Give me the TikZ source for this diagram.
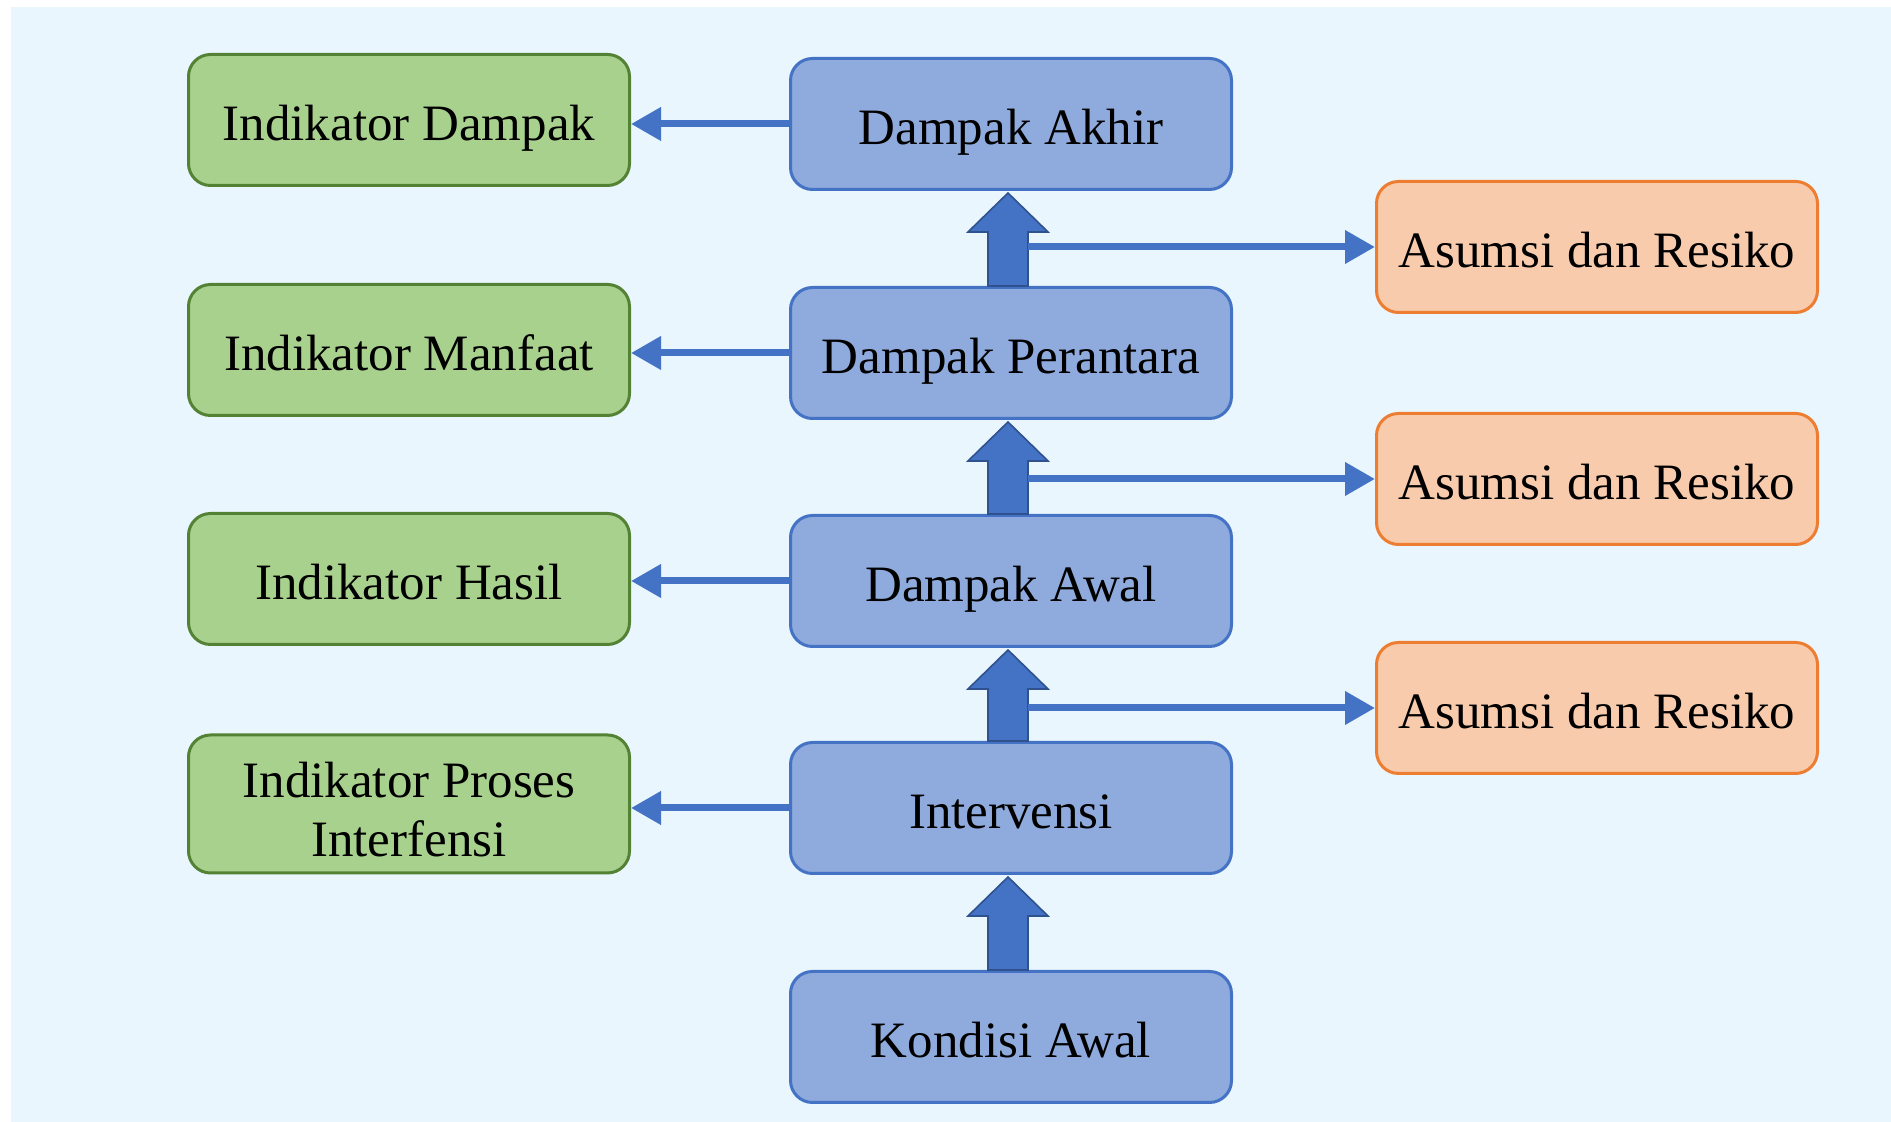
\documentclass[tikz,border=0pt]{standalone}
\usepackage{fontspec}
\setmainfont{Liberation Serif}
\usetikzlibrary{arrows.meta,calc}
\definecolor{bg}{HTML}{EAF6FD}
\definecolor{gfill}{HTML}{A9D18E}
\definecolor{gborder}{HTML}{548235}
\definecolor{bfill}{HTML}{8FAADC}
\definecolor{bborder}{HTML}{4472C4}
\definecolor{ofill}{HTML}{F8CBAD}
\definecolor{oborder}{HTML}{ED7D31}
\definecolor{arr}{HTML}{4472C4}
\definecolor{arrdark}{HTML}{2F528F}
\begin{document}
\begin{tikzpicture}[x=0.5pt,y=0.5pt,
  font=\fontsize{25.5}{29.5}\selectfont,
  box/.style={rounded corners=11pt, minimum width=220.5pt, minimum height=65.5pt, line width=1.5pt, align=center, inner sep=2pt, text height=27pt, text depth=6pt},
  gbox/.style={box, draw=gborder, fill=gfill},
  bbox/.style={box, draw=bborder, fill=bfill},
  obox/.style={box, draw=oborder, fill=ofill},
  larrow/.style={draw=arr, line width=3.5pt, -{Triangle[length=15pt,width=16pt]}},
  barrow/.style={fill=arr, draw=arrdark, line width=0.8pt, line join=miter}]
\useasboundingbox (0,0) rectangle (1891,1122);
\fill[bg] (11,0) rectangle (1891,1115);
% green indicator boxes
\node[gbox] (g1) at (409,1002) {Indikator Dampak};
\node[gbox] (g2) at (409,772) {Indikator Manfaat};
\node[gbox] (g3) at (409,543) {Indikator Hasil};
\node[gbox, text height=59pt, text depth=6pt] (g4) at (409,318) {Indikator Proses\\Interfensi};
% blue chain boxes
\node[bbox] (b1) at (1011,998) {Dampak Akhir};
\node[bbox] (b2) at (1011,769) {Dampak Perantara};
\node[bbox] (b3) at (1011,541) {Dampak Awal};
\node[bbox] (b4) at (1011,314) {Intervensi};
\node[bbox] (b5) at (1011,85) {Kondisi Awal};
% orange boxes
\node[obox] (o1) at (1597,875) {Asumsi dan Resiko};
\node[obox] (o2) at (1597,643) {Asumsi dan Resiko};
\node[obox] (o3) at (1597,414) {Asumsi dan Resiko};
% left arrows
\foreach \b/\g in {b1/g1,b2/g2,b3/g3,b4/g4}
  \draw[larrow] (\b.west) -- (\b.west -| \g.east);
% block arrows
\foreach \lo/\up in {b2/b1,b3/b2,b4/b3,b5/b4}{
  \draw[barrow] ($(\lo.north)+(-23,0)$) -- ($(\up.south)+(-23,-41)$) -- ($(\up.south)+(-43,-41)$)
    -- ($(\up.south)+(-3,-2)$) -- ($(\up.south)+(37,-41)$) -- ($(\up.south)+(17,-41)$)
    -- ($(\lo.north)+(17,0)$) -- cycle;
}
\coordinate (s1) at ($(b1.south)+(17,0)$);
\coordinate (s2) at ($(b2.south)+(17,0)$);
\coordinate (s3) at ($(b3.south)+(17,0)$);
\draw[larrow] (s1 |- o1.west) -- (o1.west);
\draw[larrow] (s2 |- o2.west) -- (o2.west);
\draw[larrow] (s3 |- o3.west) -- (o3.west);
\end{tikzpicture}
\end{document}
